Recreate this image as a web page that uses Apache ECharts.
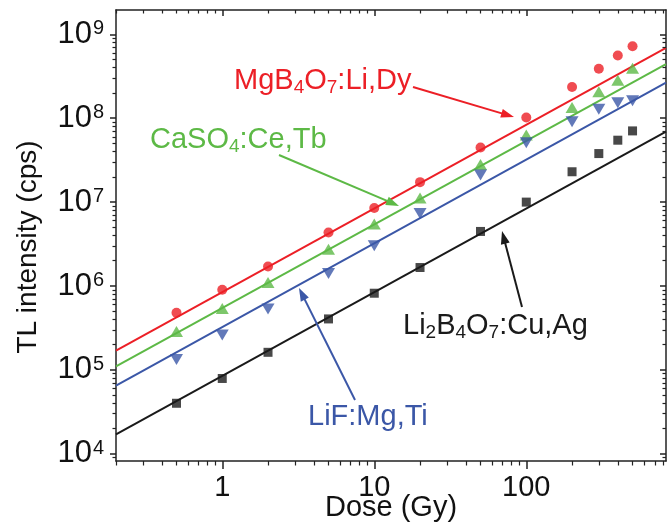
<!DOCTYPE html>
<html><head><meta charset="utf-8">
<script src="https://cdn.jsdelivr.net/npm/echarts@6/dist/echarts.min.js"></script>
<style>html,body{margin:0;padding:0;background:#fff}#c{width:669px;height:529px}</style>
</head><body><div id="c"></div>
<script>
// Dose values (Gy)
const doses = [0.5, 1, 2, 5, 10, 20, 50, 100, 200, 300, 400, 500];
// TL intensity (cps) per material
const mgb4o7 = [4.8e5, 9.0e5, 1.71e6, 4.35e6, 8.5e6, 1.73e7, 4.47e7, 1.02e8, 2.36e8, 3.89e8, 5.6e8, 7.2e8];
const caso4 = [2.86e5, 5.4e5, 1.1e6, 2.75e6, 5.47e6, 1.12e7, 2.8e7, 6.3e7, 1.34e8, 2.07e8, 2.83e8, 3.94e8];
const lif = [1.33e5, 2.6e5, 5.3e5, 1.41e6, 3.02e6, 7.3e6, 2.1e7, 5.1e7, 9.1e7, 1.28e8, 1.53e8, 1.61e8];
const li2b4o7 = [4.0e4, 7.9e4, 1.62e5, 4.05e5, 8.2e5, 1.66e6, 4.47e6, 1.0e7, 2.3e7, 3.79e7, 5.47e7, 7.06e7];
// linear fit lines (end points at the axis limits)
const fitDose = [0.2, 830];
const fitMg = [1.7e5, 6.9e8];
const fitCa = [1.1e5, 4.4e8];
const fitLiF = [6.5e4, 2.65e8];
const fitLi2 = [1.7e4, 6.9e7];
// axis limits, ticks and tick labels
const xRange = [0.2, 830];
const yRange = [8.2e3, 1.95e9];
const xTitle = 'Dose (Gy)';
const yTitle = 'TL intensity (cps)';
const xMajorTicks = [1, 10, 100];
const xTickLabels = ['1', '10', '100'];
const xMinorTicks = [0.2, 0.3, 0.4, 0.5, 0.6, 0.7, 0.8, 0.9, 2, 3, 4, 5, 6, 7, 8, 9,
  20, 30, 40, 50, 60, 70, 80, 90, 200, 300, 400, 500, 600, 700, 800];
const yMajorTicks = [1e4, 1e5, 1e6, 1e7, 1e8, 1e9];
const yTickExponents = ['4', '5', '6', '7', '8', '9'];
const yMinorTicks = [9e3,
  2e4, 3e4, 4e4, 5e4, 6e4, 7e4, 8e4, 9e4,
  2e5, 3e5, 4e5, 5e5, 6e5, 7e5, 8e5, 9e5,
  2e6, 3e6, 4e6, 5e6, 6e6, 7e6, 8e6, 9e6,
  2e7, 3e7, 4e7, 5e7, 6e7, 7e7, 8e7, 9e7,
  2e8, 3e8, 4e8, 5e8, 6e8, 7e8, 8e8, 9e8];

const FONT = "'Liberation Sans', Arial, sans-serif";
const RED = '#ec1f26', GREEN = '#5db946', BLUE = '#3b57a7', BLACK = '#1a1a1a';
const AX = '#222';

const GRID = { left: 116, right: 3, top: 10, bottom: 68 };
const plotW = 669 - GRID.left - GRID.right;
const plotH = 529 - GRID.top - GRID.bottom;
const pxPerDecX = plotW / Math.log10(xRange[1] / xRange[0]);
const pxPerDecY = plotH / Math.log10(yRange[1] / yRange[0]);

const pairs = (xs, ys) => xs.map((x, i) => [x, ys[i]]);
function isPow10(v) {
  const l = Math.log10(v);
  return Math.abs(l - Math.round(l)) < 1e-6;
}

// tick segments expressed on the log axes (length given in pixels, converted to a factor)
const tickLen = { bottom: [8, 4.5], top: [6, 3.5], left: [6, 3.5], right: [6, 3.5] };
function tickSeg(v, side, major) {
  const L = tickLen[side][major ? 0 : 1];
  const fy = Math.pow(10, -L / pxPerDecY), fx = Math.pow(10, -L / pxPerDecX);
  if (side === 'bottom') return { coords: [[v, yRange[0]], [v, yRange[0] * fy]] };
  if (side === 'top') return { coords: [[v, yRange[1]], [v, yRange[1] * fy]] };
  if (side === 'left') return { coords: [[xRange[0], v], [xRange[0] * fx, v]] };
  return { coords: [[xRange[1], v], [xRange[1] * fx, v]] };
}
const majorSegs = [], minorSegs = [];
xMajorTicks.forEach(v => { majorSegs.push(tickSeg(v, 'bottom', 1), tickSeg(v, 'top', 1)); });
yMajorTicks.forEach(v => { majorSegs.push(tickSeg(v, 'left', 1), tickSeg(v, 'right', 1)); });
xMinorTicks.forEach(v => { minorSegs.push(tickSeg(v, 'bottom', 0), tickSeg(v, 'top', 0)); });
yMinorTicks.forEach(v => { minorSegs.push(tickSeg(v, 'left', 0), tickSeg(v, 'right', 0)); });

function arrow(x1, y1, x2, y2, color) {
  const dx = x2 - x1, dy = y2 - y1;
  const len = Math.sqrt(dx * dx + dy * dy);
  const ux = dx / len, uy = dy / len;
  const hl = 13, hw = 4.5;
  const bx = x2 - ux * hl, by = y2 - uy * hl;
  return [
    { type: 'line', shape: { x1: x1, y1: y1, x2: bx + ux * 2, y2: by + uy * 2 }, style: { stroke: color, lineWidth: 2 }, z: 100 },
    { type: 'polygon', shape: { points: [[x2, y2], [bx - uy * hw, by + ux * hw], [bx + uy * hw, by - ux * hw]] }, style: { fill: color }, z: 100 }
  ];
}

// y is roughly the centre of the capital letters
function label(x, y, text, color) {
  return {
    type: 'text', x: x, y: y, z: 100,
    style: {
      text: text, fill: color, font: '29px ' + FONT, verticalAlign: 'middle', align: 'left',
      rich: {
        n: { fontSize: 29, fontFamily: FONT, fill: color, lineHeight: 30, verticalAlign: 'top' },
        s: { fontSize: 19, fontFamily: FONT, fill: color, lineHeight: 20, verticalAlign: 'top', padding: [12, 0, 0, 0] }
      }
    }
  };
}

const chart = echarts.init(document.getElementById('c'), null, { renderer: 'canvas' });

const xBase = {
  type: 'log', logBase: 10, min: xRange[0], max: xRange[1],
  axisLine: { show: true, lineStyle: { color: AX, width: 1.5 } },
  axisTick: { show: false }, minorTick: { show: false },
  splitLine: { show: false }, minorSplitLine: { show: false }
};
const yBase = {
  type: 'log', logBase: 10, min: yRange[0], max: yRange[1],
  axisLine: { show: true, lineStyle: { color: AX, width: 1.5 } },
  axisTick: { show: false }, minorTick: { show: false },
  splitLine: { show: false }, minorSplitLine: { show: false }
};

const option = {
  animation: false,
  backgroundColor: '#fff',
  grid: { left: GRID.left, right: GRID.right, top: GRID.top, bottom: GRID.bottom, containLabel: false, outerBoundsMode: 'none' },
  xAxis: [
    Object.assign({}, xBase, {
      position: 'bottom',
      axisLabel: {
        show: true, margin: 12, fontSize: 29, fontFamily: FONT, color: '#111',
        formatter: function (v) {
          if (!isPow10(v)) return '';
          const i = xMajorTicks.indexOf(Math.round(v));
          return i >= 0 ? xTickLabels[i] : '';
        }
      }
    }),
    Object.assign({}, xBase, { position: 'top', axisLabel: { show: false } })
  ],
  yAxis: [
    Object.assign({}, yBase, {
      position: 'left',
      axisLabel: {
        show: true, margin: 12, color: '#111',
        formatter: function (v) {
          if (!isPow10(v)) return '';
          const e = String(Math.round(Math.log10(v)));
          const idx = yTickExponents.indexOf(e);
          if (idx < 0) return '';
          return '{b|10}{p|' + yTickExponents[idx] + '}';
        },
        rich: {
          b: { fontSize: 31, fontFamily: FONT, color: '#111', lineHeight: 31, verticalAlign: 'bottom' },
          p: { fontSize: 20, fontFamily: FONT, color: '#111', lineHeight: 20, verticalAlign: 'top', padding: [0, 0, 12, 1] }
        }
      }
    }),
    Object.assign({}, yBase, { position: 'right', axisLabel: { show: false } })
  ],
  series: [
    { type: 'lines', name: 'majorTicks', coordinateSystem: 'cartesian2d', xAxisIndex: 0, yAxisIndex: 0,
      data: majorSegs, clip: false, silent: true, symbol: ['none', 'none'], z: 6,
      lineStyle: { color: AX, width: 1.5, opacity: 1, curveness: 0 } },
    { type: 'lines', name: 'minorTicks', coordinateSystem: 'cartesian2d', xAxisIndex: 0, yAxisIndex: 0,
      data: minorSegs, clip: false, silent: true, symbol: ['none', 'none'], z: 6,
      lineStyle: { color: AX, width: 1.2, opacity: 1, curveness: 0 } },
    { type: 'line', name: 'fitMg', data: pairs(fitDose, fitMg), showSymbol: false, symbol: 'none', lineStyle: { color: RED, width: 2 }, z: 2, clip: true },
    { type: 'line', name: 'fitCa', data: pairs(fitDose, fitCa), showSymbol: false, symbol: 'none', lineStyle: { color: GREEN, width: 2 }, z: 2, clip: true },
    { type: 'line', name: 'fitLiF', data: pairs(fitDose, fitLiF), showSymbol: false, symbol: 'none', lineStyle: { color: BLUE, width: 2 }, z: 2, clip: true },
    { type: 'line', name: 'fitLi2', data: pairs(fitDose, fitLi2), showSymbol: false, symbol: 'none', lineStyle: { color: BLACK, width: 2 }, z: 2, clip: true },
    { type: 'scatter', name: 'MgB4O7:Li,Dy', data: pairs(doses, mgb4o7), symbol: 'circle', symbolSize: 10, itemStyle: { color: RED }, z: 3 },
    { type: 'scatter', name: 'CaSO4:Ce,Tb', data: pairs(doses, caso4), symbol: 'triangle', symbolSize: [13, 11], itemStyle: { color: GREEN }, z: 3 },
    { type: 'scatter', name: 'LiF:Mg,Ti', data: pairs(doses, lif), symbol: 'triangle', symbolRotate: 180, symbolSize: [13, 11], itemStyle: { color: BLUE }, z: 3 },
    { type: 'scatter', name: 'Li2B4O7:Cu,Ag', data: pairs(doses, li2b4o7), symbol: 'rect', symbolSize: 9, itemStyle: { color: BLACK }, z: 3 }
  ],
  graphic: [].concat(
    [{ type: 'text', x: GRID.left + plotW / 2, y: 508, z: 100,
       style: { text: xTitle, fill: '#111', font: '29px ' + FONT, align: 'center', verticalAlign: 'middle' } }],
    [{ type: 'text', x: 28, y: 247, rotation: Math.PI / 2, z: 100,
       style: { text: yTitle, fill: '#111', font: '28px ' + FONT, align: 'center', verticalAlign: 'middle' } }],
    [label(234, 81, '{n|MgB}{s|4}{n|O}{s|7}{n|:Li,Dy}', RED)],
    arrow(413, 87, 514, 117, RED),
    [label(150, 140, '{n|CaSO}{s|4}{n|:Ce,Tb}', GREEN)],
    arrow(279, 155, 399, 206, GREEN),
    [label(403, 326, '{n|Li}{s|2}{n|B}{s|4}{n|O}{s|7}{n|:Cu,Ag}', BLACK)],
    arrow(522, 307, 502, 231, BLACK),
    [label(308, 417, '{n|LiF:Mg,Ti}', BLUE)],
    arrow(355, 400, 299, 288, BLUE)
  )
};
chart.setOption(option);
</script>
</body></html>
